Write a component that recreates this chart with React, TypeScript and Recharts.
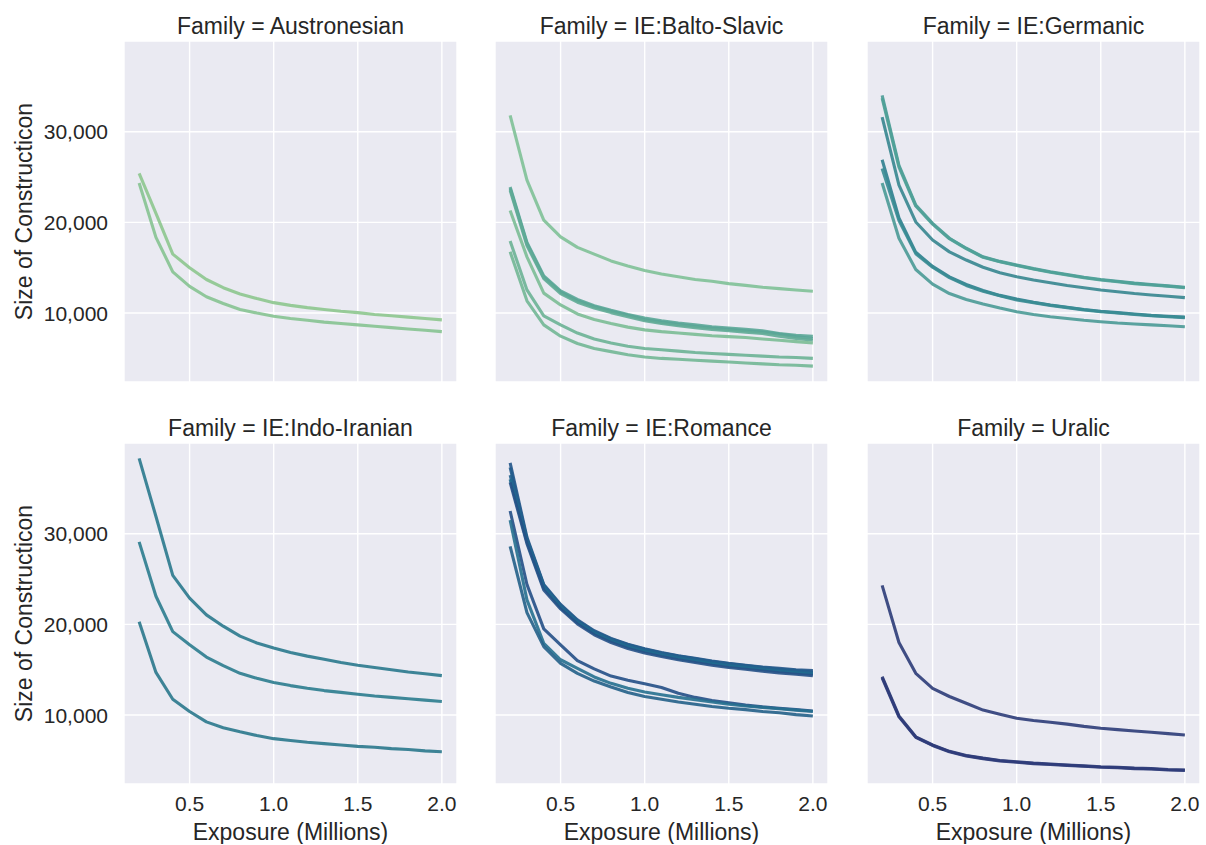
import React from 'react';
import { LineChart, Line, XAxis, YAxis, CartesianGrid } from 'recharts';

// exposure in millions of words, one sample every 0.1M
const EXPOSURE = [0.2, 0.3, 0.4, 0.5, 0.6, 0.7, 0.8, 0.9, 1.0, 1.1, 1.2, 1.3, 1.4, 1.5, 1.6, 1.7, 1.8, 1.9, 2.0];
const X_TICKS = [0.5, 1.0, 1.5, 2.0];
const Y_TICKS = [10000, 20000, 30000];

const AUSTRONESIAN_1 = [25400, 21000, 16500, 15000, 13700, 12800, 12100, 11600, 11150, 10850, 10600, 10400, 10200, 10050, 9850, 9700, 9550, 9400, 9250];
const AUSTRONESIAN_2 = [24350, 18350, 14550, 12950, 11800, 11050, 10400, 10000, 9650, 9400, 9200, 9000, 8850, 8700, 8550, 8400, 8250, 8100, 7950];

const BALTO_1 = [31800, 24650, 20250, 18400, 17250, 16500, 15750, 15200, 14700, 14300, 14000, 13700, 13500, 13250, 13050, 12850, 12700, 12550, 12400];
const BALTO_2 = [23900, 17800, 14100, 12450, 11500, 10800, 10300, 9850, 9450, 9150, 8900, 8700, 8500, 8350, 8200, 8050, 7750, 7550, 7450];
const BALTO_3 = [23750, 17650, 13950, 12300, 11350, 10700, 10200, 9750, 9300, 9000, 8750, 8550, 8350, 8200, 8050, 7900, 7700, 7400, 7200];
const BALTO_4 = [23550, 17450, 13800, 12150, 11200, 10550, 10050, 9600, 9150, 8850, 8600, 8400, 8200, 8050, 7900, 7750, 7450, 7200, 7000];
const BALTO_5 = [21300, 16200, 12200, 10900, 9900, 9300, 8850, 8450, 8150, 7950, 7800, 7650, 7500, 7400, 7300, 7150, 7000, 6850, 6700];
const BALTO_6 = [17950, 12550, 9700, 8700, 7800, 7150, 6700, 6350, 6100, 5950, 5800, 5650, 5550, 5450, 5350, 5250, 5150, 5100, 5000];
const BALTO_7 = [16750, 11350, 8700, 7450, 6650, 6100, 5750, 5400, 5150, 5000, 4900, 4800, 4700, 4600, 4500, 4400, 4300, 4250, 4150];

const GERMANIC_1 = [34000, 26300, 21900, 19900, 18250, 17150, 16200, 15700, 15300, 14900, 14550, 14250, 13950, 13700, 13500, 13300, 13150, 13000, 12850];
const GERMANIC_2 = [33700, 26100, 21800, 19800, 18200, 17100, 16150, 15650, 15250, 14850, 14500, 14200, 13900, 13650, 13450, 13250, 13100, 12950, 12800];
const GERMANIC_3 = [31600, 24100, 20050, 18050, 16750, 15850, 15050, 14450, 14000, 13650, 13350, 13050, 12800, 12550, 12350, 12150, 12000, 11850, 11700];
const GERMANIC_4 = [26900, 20500, 16700, 15150, 14000, 13150, 12500, 11950, 11550, 11200, 10900, 10650, 10400, 10200, 10050, 9900, 9750, 9650, 9550];
const GERMANIC_5 = [25950, 20200, 16550, 15050, 13900, 13050, 12400, 11900, 11450, 11150, 10850, 10600, 10350, 10150, 10000, 9850, 9700, 9600, 9500];
const GERMANIC_6 = [24350, 18250, 14800, 13200, 12150, 11500, 11000, 10550, 10150, 9850, 9600, 9400, 9200, 9050, 8900, 8800, 8700, 8600, 8500];

const INDO_IRANIAN_1 = [38300, 31900, 25400, 22900, 21050, 19800, 18700, 17950, 17400, 16900, 16500, 16150, 15800, 15500, 15250, 15000, 14750, 14550, 14350];
const INDO_IRANIAN_2 = [29100, 23100, 19200, 17750, 16400, 15450, 14600, 14050, 13600, 13250, 12950, 12700, 12500, 12300, 12100, 11950, 11800, 11650, 11500];
const INDO_IRANIAN_3 = [20300, 14700, 11750, 10400, 9250, 8600, 8150, 7750, 7400, 7200, 7000, 6850, 6700, 6550, 6450, 6300, 6200, 6050, 5950];

const ROMANCE_1 = [37800, 29600, 24400, 22200, 20500, 19300, 18450, 17800, 17300, 16900, 16550, 16250, 15950, 15700, 15500, 15300, 15150, 15000, 14900];
const ROMANCE_2 = [37300, 29400, 24300, 22100, 20400, 19200, 18400, 17750, 17250, 16850, 16500, 16200, 15900, 15650, 15450, 15250, 15050, 14900, 14750];
const ROMANCE_3 = [36450, 29300, 24200, 22000, 20300, 19150, 18300, 17650, 17150, 16750, 16400, 16100, 15800, 15550, 15350, 15150, 14950, 14800, 14650];
const ROMANCE_4 = [36000, 29100, 24000, 21850, 20200, 19000, 18150, 17500, 17000, 16600, 16250, 15950, 15650, 15400, 15200, 15000, 14800, 14650, 14500];
const ROMANCE_5 = [35650, 28900, 23800, 21700, 20050, 18850, 18000, 17350, 16850, 16450, 16100, 15800, 15500, 15250, 15050, 14850, 14650, 14500, 14350];
const ROMANCE_6 = [32500, 24400, 19500, 17750, 16000, 15100, 14300, 13850, 13450, 13050, 12400, 11950, 11600, 11350, 11100, 10900, 10750, 10600, 10450];
const ROMANCE_7 = [31500, 22700, 17900, 16100, 15150, 14200, 13500, 12950, 12550, 12250, 11950, 11700, 11450, 11200, 11000, 10850, 10700, 10550, 10400];
const ROMANCE_8 = [28600, 21300, 17550, 15700, 14600, 13750, 13100, 12500, 12050, 11750, 11450, 11200, 10950, 10750, 10600, 10400, 10250, 10050, 9900];

const URALIC_1 = [24300, 18000, 14600, 12950, 12050, 11300, 10550, 10100, 9650, 9400, 9200, 9000, 8750, 8550, 8400, 8250, 8100, 7950, 7800];
const URALIC_2 = [14250, 9900, 7600, 6700, 6000, 5550, 5250, 5000, 4850, 4700, 4600, 4500, 4400, 4300, 4250, 4150, 4100, 4000, 3950];
const URALIC_3 = [14100, 9800, 7550, 6650, 5950, 5500, 5200, 4950, 4800, 4650, 4550, 4450, 4350, 4250, 4200, 4100, 4050, 3950, 3900];

const FAMILIES = [
  { name: 'Austronesian', series: [AUSTRONESIAN_1, AUSTRONESIAN_2] },
  { name: 'IE:Balto-Slavic', series: [BALTO_1, BALTO_2, BALTO_3, BALTO_4, BALTO_5, BALTO_6, BALTO_7] },
  { name: 'IE:Germanic', series: [GERMANIC_1, GERMANIC_2, GERMANIC_3, GERMANIC_4, GERMANIC_5, GERMANIC_6] },
  { name: 'IE:Indo-Iranian', series: [INDO_IRANIAN_1, INDO_IRANIAN_2, INDO_IRANIAN_3] },
  { name: 'IE:Romance', series: [ROMANCE_1, ROMANCE_2, ROMANCE_3, ROMANCE_4, ROMANCE_5, ROMANCE_6, ROMANCE_7, ROMANCE_8] },
  { name: 'Uralic', series: [URALIC_1, URALIC_2, URALIC_3] },
];

// crest-like hues, one per language
const COLORS = [
  ['#8dc78e', '#86c391'],
  ['#80c197', '#5ba797', '#59a597', '#60ab96', '#7bbd95', '#6cb395', '#72b795'],
  ['#4b9c97', '#4fa197', '#36868f', '#2f7f8f', '#3a8c93', '#4a9a96'],
  ['#2a798d', '#2b7c8e', '#2a788c'],
  ['#24558a', '#225c8c', '#23628e', '#1f6b8e', '#265187', '#234f86', '#26708f', '#236088'],
  ['#2c3c78', '#2b3a76', '#2d3b79'],
];

const FONT = '"Liberation Sans", Arial, sans-serif';
const TEXT = '#262626';
const PLOT_LEFT = [124, 495, 867];
const PLOT_TOP = [41, 443];
const PLOT_W = 333;
const PLOT_H = 341;
const X_AXIS_H = 60;

const YLabel = (props: any) => {
  const { viewBox } = props;
  const x = viewBox.x + 32;
  const cy = viewBox.y + viewBox.height / 2;
  return (
    <text x={x} y={cy} transform={`rotate(-90 ${x} ${cy})`} textAnchor="middle" fill={TEXT} fontSize={23} fontFamily={FONT}>
      Size of Constructicon
    </text>
  );
};

const Panel = ({ idx }: { idx: number }) => {
  const col = idx % 3;
  const row = Math.floor(idx / 3);
  const family = FAMILIES[idx];
  const showY = col === 0;
  const showX = row === 1;
  const yW = showY ? PLOT_LEFT[0] : 0;
  const xH = showX ? X_AXIS_H : 0;
  const data = EXPOSURE.map((x, i) => {
    const d: Record<string, number> = { x };
    family.series.forEach((s, j) => { d['s' + j] = s[i]; });
    return d;
  });

  return (
    <div style={{ position: 'absolute', left: PLOT_LEFT[col] - yW, top: PLOT_TOP[row] }}>
      <LineChart width={PLOT_W + yW} height={PLOT_H + xH} data={data} margin={{ top: 0, right: 0, bottom: 0, left: 0 }}>
        <CartesianGrid fill="#eaeaf2" stroke="#ffffff" strokeWidth={1.4} />
        <XAxis
          dataKey="x"
          type="number"
          domain={[0.11, 2.09]}
          ticks={X_TICKS}
          hide={!showX}
          height={xH}
          axisLine={false}
          tickLine={false}
          tickSize={0}
          tickMargin={12}
          tick={{ fill: TEXT, fontSize: 21, fontFamily: FONT }}
          tickFormatter={(v: number) => v.toFixed(1)}
          label={{ value: 'Exposure (Millions)', position: 'insideBottom', offset: 4, fill: TEXT, fontSize: 23, fontFamily: FONT }}
        />
        <YAxis
          type="number"
          domain={[2400, 40000]}
          ticks={Y_TICKS}
          hide={!showY}
          width={yW}
          axisLine={false}
          tickLine={false}
          tickSize={0}
          tickMargin={16}
          tick={{ fill: TEXT, fontSize: 21, fontFamily: FONT }}
          tickFormatter={(v: number) => v.toLocaleString('en-US')}
          label={<YLabel />}
        />
        {family.series.map((_, j) => (
          <Line
            key={j}
            type="linear"
            dataKey={'s' + j}
            stroke={COLORS[idx][j]}
            strokeWidth={3.1}
            strokeOpacity={0.9}
            strokeLinejoin="round"
            dot={false}
            isAnimationActive={false}
          />
        ))}
      </LineChart>
    </div>
  );
};

export default function App() {
  return (
    <div style={{ position: 'absolute', left: 0, top: 0, width: 1206, height: 845, background: '#ffffff', fontFamily: FONT }}>
      {FAMILIES.map((_, i) => <Panel key={i} idx={i} />)}
      <svg width={1206} height={845} style={{ position: 'absolute', left: 0, top: 0, pointerEvents: 'none' }}>
        {FAMILIES.map((f, i) => (
          <text
            key={f.name}
            x={PLOT_LEFT[i % 3] + PLOT_W / 2}
            y={PLOT_TOP[Math.floor(i / 3)] - 7}
            textAnchor="middle"
            fill={TEXT}
            fontSize={23}
            fontFamily={FONT}
          >
            {`Family = ${f.name}`}
          </text>
        ))}
      </svg>
    </div>
  );
}
